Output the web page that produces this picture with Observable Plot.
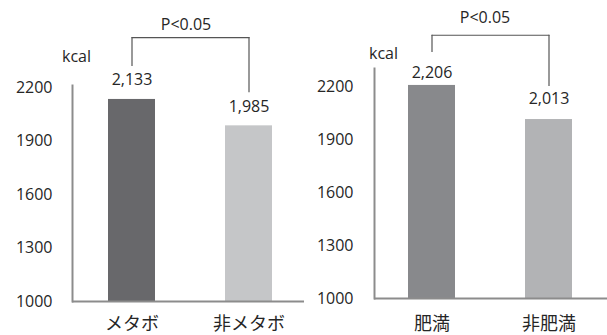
<!DOCTYPE html>
<html>
<head>
<meta charset="utf-8">
<script src="https://cdn.jsdelivr.net/npm/d3@7"></script>
<script src="https://cdn.jsdelivr.net/npm/@observablehq/plot@0.6"></script>
<style>
  html, body { margin: 0; padding: 0; background: #fff; }
  #wrap { position: relative; width: 607px; height: 335px; overflow: hidden; }
  #wrap svg { position: absolute; top: 0; overflow: visible; }
</style>
</head>
<body>
<div id="wrap"></div>
<script>
// Daily energy intake, metabolic syndrome vs. not
const metaboGroups = ["メタボ", "非メタボ"];
const metaboEnergy = [2133, 1985];

// Daily energy intake, obese vs. not obese
const obesityGroups = ["肥満", "非肥満"];
const obesityEnergy = [2206, 2013];

const energyDomain = [1000, 2200];
const energyTicks = [1000, 1300, 1600, 1900, 2200];
const unitLabel = "kcal";
const significanceLabel = "P<0.05";

const fmt = d3.format(",");
const latinFont = "'Open Sans', 'Noto Sans CJK JP', sans-serif";
const cjkFont = "'Noto Sans CJK JP', sans-serif";
const ink = "#262626";
const fs = 16;
const ls = 0.7;

function energyPanel(cfg) {
  const rows = cfg.groups.map((group, i) => ({
    group, value: cfg.values[i], color: cfg.colors[i]
  }));
  const base = energyDomain[0];
  const level = () => cfg.bracketLevel;
  return Plot.plot({
    width: cfg.width,
    height: 335,
    marginLeft: cfg.marginLeft,
    marginRight: 0,
    marginTop: cfg.frameTop,
    marginBottom: 335 - cfg.yBottom,
    style: { fontFamily: latinFont, fontSize: fs + "px", color: ink, background: "transparent", overflow: "visible" },
    x: { domain: cfg.groups, range: cfg.xRange, paddingInner: 0.6, paddingOuter: 0.3, label: null },
    y: { domain: energyDomain, range: [cfg.yBottom, cfg.yTop], label: null },
    color: { type: "identity" },
    marks: [
      Plot.barY(rows, { x: "group", y1: base, y2: "value", fill: "color" }),
      // axis lines
      Plot.frame({ anchor: "left", stroke: "#8c8c8c", strokeWidth: 2 }),
      Plot.ruleY([base], { stroke: "#8c8c8c", strokeWidth: 2 }),
      Plot.axisY({ ticks: energyTicks, tickFormat: d3.format("d"), tickSize: 0, tickPadding: cfg.tickPadding, fontSize: fs, letterSpacing: ls, label: null }),
      Plot.axisX({ tickSize: 0, tickPadding: cfg.catPadding, fontSize: 18, fontFamily: cjkFont, label: null }),
      // value labels above the bars
      ...rows.map((r, i) => Plot.text([r], {
        x: "group", y: "value", text: d => fmt(d.value), dy: cfg.labelDy[i],
        lineAnchor: "middle", fontSize: fs, letterSpacing: ls, fill: ink
      })),
      // unit
      Plot.text([unitLabel], {
        frameAnchor: "top-left", textAnchor: "middle", lineAnchor: "middle",
        dx: cfg.unitDx, dy: cfg.unitDy, fontSize: fs, letterSpacing: ls, fill: ink
      }),
      // significance bracket: two legs joined at the bracket level
      Plot.ruleX(rows, { x: "group", y1: level, y2: "value", insetBottom: 33, stroke: "#555", strokeWidth: 1.2 }),
      Plot.line(rows, { x: "group", y: level, stroke: "#555", strokeWidth: 1.2 }),
      Plot.text([significanceLabel], {
        frameAnchor: "top", y: level, textAnchor: "middle", lineAnchor: "middle",
        dx: cfg.pDx, dy: cfg.pDy, fontSize: fs, letterSpacing: ls, fill: ink
      })
    ]
  });
}

const wrap = document.getElementById("wrap");

const left = energyPanel({
  groups: metaboGroups, values: metaboEnergy, colors: ["#68686b", "#c5c6c8"],
  width: 304, marginLeft: 72, frameTop: 85, yTop: 87, yBottom: 301, xRange: [73, 307],
  tickPadding: 20, catPadding: 16, labelDy: [-20, -19],
  unitDx: 4, unitDy: -29, bracketLevel: 2480, pDx: -2.5, pDy: -13
});
left.style.left = "0px";
wrap.appendChild(left);

const right = energyPanel({
  groups: obesityGroups, values: obesityEnergy, colors: ["#88898c", "#b2b3b5"],
  width: 304, marginLeft: 71, frameTop: 68, yTop: 86, yBottom: 298, xRange: [70, 304],
  tickPadding: 21, catPadding: 19, labelDy: [-13, -21],
  unitDx: 9, unitDy: -14.8, bracketLevel: 2490, pDx: -6, pDy: -17
});
right.style.left = "303px";
wrap.appendChild(right);
</script>
</body>
</html>
